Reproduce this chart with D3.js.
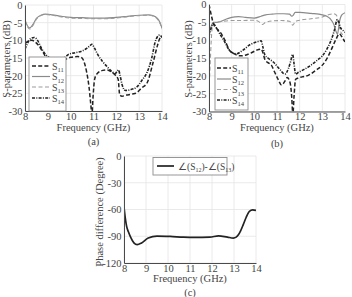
<!DOCTYPE html>
<html><head><meta charset="utf-8">
<script src="https://cdn.jsdelivr.net/npm/d3@7"></script>
<style>
html,body{margin:0;padding:0;background:#fff;}
svg{display:block;}
</style></head>
<body>
<svg id="c" width="352" height="297"></svg>
<script>
// ---------- DATA ----------
const xTicks = [8, 9, 10, 11, 12, 13, 14];
const sTicks = [0, -5, -10, -15, -20, -25, -30];
const phTicks = [0, -30, -60, -90, -120];

// Panel (a)
const fA12 = [8.0,8.1,8.2,8.35,8.5,8.7,8.9,9.2,9.6,10.0,10.5,11.0,11.5,12.0,12.5,13.0,13.4,13.6,13.8,13.9,14.0];
const a12  = [-4.2,-5.8,-6.5,-5.5,-3.8,-2.9,-2.6,-2.8,-3.2,-3.5,-3.6,-3.7,-3.7,-3.5,-3.2,-2.9,-2.8,-3.0,-3.8,-4.8,-6.5];
const a13  = [-4.5,-6.0,-6.8,-5.8,-4.0,-3.0,-2.7,-2.9,-3.4,-3.7,-3.8,-3.9,-3.9,-3.7,-3.3,-3.0,-2.9,-3.1,-4.0,-5.0,-6.8];
const fA11 = [8.0,8.15,8.3,8.45,8.6,8.8,9.0,9.3,9.6,9.8,10.0,10.3,10.45,10.55,10.7,10.8,10.88,10.93,10.98,11.05,11.15,11.4,11.6,11.8,11.95,12.08,12.15,12.25,12.45,12.7,12.9,13.1,13.35,13.6,13.8,13.9,14.0];
const a11  = [-11,-10.2,-10,-10.5,-11.5,-13.5,-15.5,-16,-15.8,-15.3,-14.8,-14.6,-14.8,-15.5,-19,-23,-28,-31,-26,-21,-19.5,-18.5,-18.4,-19,-19.8,-21,-25.5,-25.8,-25.5,-25.2,-24.8,-23.5,-22,-16.5,-11.5,-9.5,-9];
const fA14 = [8.0,8.1,8.25,8.4,8.55,8.7,8.9,9.1,9.4,9.7,9.9,10.2,10.5,10.7,10.85,10.93,11.05,11.2,11.4,11.6,11.8,11.95,12.05,12.1,12.15,12.25,12.4,12.6,12.9,13.1,13.35,13.55,13.7,13.8,13.9,14.0];
const a14  = [-12.5,-11,-9.5,-9.2,-10,-12,-14,-15,-15.3,-15,-14,-13.5,-13,-12.3,-11.5,-11.1,-12.3,-14.2,-16,-17.5,-18.8,-19.4,-18.6,-18.4,-19.5,-22.5,-24.2,-24,-23.2,-21.5,-19,-15,-10.5,-9,-8.5,-9.2];

// Panel (b)
const fB12 = [8.0,8.1,8.2,8.35,8.5,8.8,9.0,9.3,9.6,10.0,10.3,10.5,10.8,11.0,11.3,11.55,11.65,11.72,11.8,12.0,12.5,13.0,13.2,13.35,13.5,13.6,13.67,13.75,13.85,14.0];
const b12  = [-8.5,-6,-5,-5,-4.8,-4,-3.6,-3.4,-3.6,-3.8,-3.3,-2.9,-2.7,-2.6,-2.6,-2.7,-3.3,-3.0,-2.2,-2.2,-2.5,-2.9,-3.3,-4,-5.5,-7.5,-8.3,-5,-3,-2.3];
const fB13 = [8.0,8.05,8.1,8.17,8.3,8.6,9.0,9.5,10.0,10.2,10.35,10.5,10.8,11.2,11.55,11.7,11.8,12.0,12.5,13.0,13.3,13.5,13.62,13.7,13.8,13.9,14.0];
const b13  = [-24,-17,-10,-5.5,-5,-4.7,-4.5,-4.5,-4.4,-4.8,-5.6,-5,-4.6,-4.5,-4.7,-5.8,-4.8,-4.4,-4,-3.5,-2.8,-2.6,-3,-5,-7.5,-8.5,-9];
const fB11 = [8.0,8.05,8.12,8.2,8.35,8.5,8.7,8.9,9.1,9.35,9.6,9.85,10.1,10.3,10.38,10.47,10.6,10.75,10.9,11.05,11.2,11.35,11.45,11.58,11.65,11.7,11.75,11.82,11.9,12.1,12.4,12.7,13.0,13.2,13.4,13.6,13.75,13.9,14.0];
const b11  = [0,-1.5,-3.5,-5.5,-6.8,-7.8,-10,-12.8,-13.8,-14.4,-14.2,-13.6,-12.8,-12.5,-13.5,-15.5,-16.3,-17,-19,-21,-22.6,-21.5,-20.5,-22,-26,-31,-26,-21,-20.7,-20.3,-19.8,-18.5,-17,-15.2,-12.6,-9.8,-8.2,-9.5,-10.5];
const fB14 = [8.0,8.1,8.2,8.35,8.5,8.65,8.8,8.95,9.2,9.5,9.8,10.1,10.3,10.38,10.47,10.6,10.85,11.1,11.35,11.5,11.6,11.69,11.75,11.82,11.95,12.2,12.5,12.8,13.0,13.2,13.4,13.55,13.65,13.72,13.8,13.9,14.0];
const b14  = [-9,-6.5,-5.5,-6.8,-8.5,-10,-11.8,-13.2,-13.8,-12.8,-11.3,-10.5,-10.2,-12,-14.2,-15,-16.2,-18,-19.5,-18,-16,-14,-16.5,-19.5,-19,-18.2,-17,-15.5,-14.4,-12.5,-9.8,-6.8,-4.3,-4.8,-6.5,-7.2,-7.8];

// Panel (c)
const fC = [8.0,8.06,8.12,8.2,8.3,8.45,8.6,8.8,9.1,9.5,10.1,10.7,11.2,11.9,12.3,12.7,12.97,13.1,13.2,13.3,13.42,13.55,13.7,13.85,14.0];
const phase = [-57,-70,-79,-85,-91,-97.5,-99.5,-97.5,-92,-89.8,-90.2,-91,-91.3,-91,-89.5,-91,-92,-91,-88.4,-84,-77,-69,-62,-60.4,-61];

// ---------- DRAW ----------
const FONT = '"Liberation Serif", "Times New Roman", serif';
const TXT = "#444";
const svg = d3.select("#c");
const styles = {
  S11: {stroke:"#222", width:1.5, dash:"4,2.2"},
  S12: {stroke:"#8a8a8a", width:1.2, dash:null},
  S13: {stroke:"#9c9c9c", width:1.1, dash:"4,2.5"},
  S14: {stroke:"#222", width:1.6, dash:"3,1.3,1,1.3"}
};
const fmt = d => String(d);

function panel(opt){
  const g = svg.append("g");
  const x = d3.scaleLinear().domain([8,14]).range([opt.x0, opt.x1]);
  const y = d3.scaleLinear().domain(opt.ydom).range([opt.yb, opt.yt]);
  g.append("g").selectAll("line").data(xTicks).join("line")
    .attr("x1", d=>x(d)).attr("x2", d=>x(d)).attr("y1", opt.yt).attr("y2", opt.yb)
    .attr("stroke","#e4e4e4").attr("stroke-width",0.8);
  g.append("g").selectAll("line").data(opt.yticks).join("line")
    .attr("x1", opt.x0).attr("x2", opt.x1).attr("y1", d=>y(d)).attr("y2", d=>y(d))
    .attr("stroke","#e4e4e4").attr("stroke-width",0.8);
  const clipId = "clip"+opt.id;
  svg.append("clipPath").attr("id",clipId).append("rect")
    .attr("x",opt.x0).attr("y",opt.yt).attr("width",opt.x1-opt.x0).attr("height",opt.yb-opt.yt);
  const lines = g.append("g").attr("clip-path",`url(#${clipId})`);
  const gen = d3.line().x(d=>x(d[0])).y(d=>y(d[1])).curve(d3.curveMonotoneX);
  opt.series.forEach(s=>{
    const st = styles[s.name] || {stroke:"#222",width:1.6,dash:null};
    lines.append("path").datum(d3.zip(s.f, s.v))
      .attr("d", gen).attr("fill","none")
      .attr("stroke", st.stroke).attr("stroke-width", s.width||st.width)
      .attr("stroke-dasharray", st.dash);
  });
  const xa = g.append("g").attr("transform",`translate(0,${opt.yb})`)
    .call(d3.axisBottom(x).tickValues(xTicks).tickSize(0).tickPadding(1.5).tickFormat(fmt));
  const ya = g.append("g").attr("transform",`translate(${opt.x0},0)`)
    .call(d3.axisLeft(y).tickValues(opt.yticks).tickSize(0).tickPadding(2.5).tickFormat(fmt));
  [xa,ya].forEach(a=>{
    a.attr("font-family",FONT).attr("font-size",10.5);
    a.select(".domain").attr("stroke","#4a4a4a").attr("stroke-width",1);
    a.selectAll("text").attr("fill",TXT);
  });
  g.append("text").attr("x",(opt.x0+opt.x1)/2).attr("y",opt.xlabY).attr("text-anchor","middle")
    .attr("font-family",FONT).attr("font-size",10.5).attr("fill",TXT).text("Frequency (GHz)");
  g.append("text").attr("x",(opt.x0+opt.x1)/2).attr("y",opt.capY).attr("text-anchor","middle")
    .attr("font-family",FONT).attr("font-size",10.5).attr("fill",TXT).text(opt.cap);
  g.append("text").attr("transform",`translate(${opt.ylabX},${opt.ylabCY}) rotate(-90)`)
    .attr("text-anchor","middle").attr("font-family",FONT).attr("font-size",10.5).attr("fill",TXT).text(opt.ylab);
  return {g,x,y};
}

function sLegend(g, bx, by, bw, bh, lx0, lx1, tx, rows){
  g.append("rect").attr("x",bx).attr("y",by).attr("width",bw).attr("height",bh)
    .attr("fill","#fff").attr("stroke","#8c8c8c").attr("stroke-width",0.9);
  rows.forEach(r=>{
    const st = styles[r.name];
    g.append("line").attr("x1",lx0).attr("x2",lx1).attr("y1",r.y).attr("y2",r.y)
      .attr("stroke",st.stroke).attr("stroke-width",st.width).attr("stroke-dasharray",st.dash);
    const t = g.append("text").attr("x",tx).attr("y",r.y+3.5).attr("font-family",FONT)
      .attr("font-size",10).attr("fill",TXT);
    t.append("tspan").text("S");
    t.append("tspan").attr("font-size",6.5).attr("dy",2.5).text(r.name.slice(1));
  });
}

const pa = panel({id:"a", x0:25, x1:162, yt:5, yb:111, ydom:[-30,0], yticks:sTicks,
  xlabY:131, capY:145, cap:"(a)", ylab:"S-parameters (dB)", ylabX:10, ylabCY:59,
  series:[{name:"S12",f:fA12,v:a12},{name:"S13",f:fA12,v:a13},{name:"S11",f:fA11,v:a11},{name:"S14",f:fA14,v:a14}]});
sLegend(pa.g, 29, 57, 37, 54, 32, 50, 52,
  [{name:"S11",y:66},{name:"S12",y:76.5},{name:"S13",y:87},{name:"S14",y:98}]);

const pb = panel({id:"b", x0:209, x1:345, yt:4.5, yb:111.5, ydom:[-30,0], yticks:sTicks,
  xlabY:131, capY:147, cap:"(b)", ylab:"S-parameters (dB)", ylabX:192, ylabCY:59,
  series:[{name:"S12",f:fB12,v:b12},{name:"S13",f:fB13,v:b13},{name:"S11",f:fB11,v:b11},{name:"S14",f:fB14,v:b14}]});
sLegend(pb.g, 215, 58, 33, 52, 217, 231, 232,
  [{name:"S11",y:68},{name:"S12",y:79},{name:"S13",y:89.5},{name:"S14",y:100}]);

const pc = panel({id:"c", x0:124, x1:256, yt:156, yb:263, ydom:[-120,0], yticks:phTicks,
  xlabY:281.5, capY:296, cap:"(c)", ylab:"Phase difference (Degree)", ylabX:103, ylabCY:212,
  series:[{name:"P", f:fC, v:phase, width:1.7}]});
pc.g.append("rect").attr("x",153).attr("y",157.5).attr("width",74).attr("height",17.5)
  .attr("fill","#fff").attr("stroke","#8c8c8c").attr("stroke-width",0.9);
pc.g.append("line").attr("x1",157).attr("x2",174).attr("y1",166).attr("y2",166)
  .attr("stroke","#222").attr("stroke-width",1.7);
const lt = pc.g.append("text").attr("x",178).attr("y",169.5).attr("font-family",FONT)
  .attr("font-size",9.5).attr("fill",TXT);
lt.append("tspan").text("\u2220(S");
lt.append("tspan").attr("font-size",6).attr("dy",2.5).text("12");
lt.append("tspan").attr("dy",-2.5).text(")-\u2220(S");
lt.append("tspan").attr("font-size",6).attr("dy",2.5).text("13");
lt.append("tspan").attr("dy",-2.5).text(")");
</script>
</body></html>
